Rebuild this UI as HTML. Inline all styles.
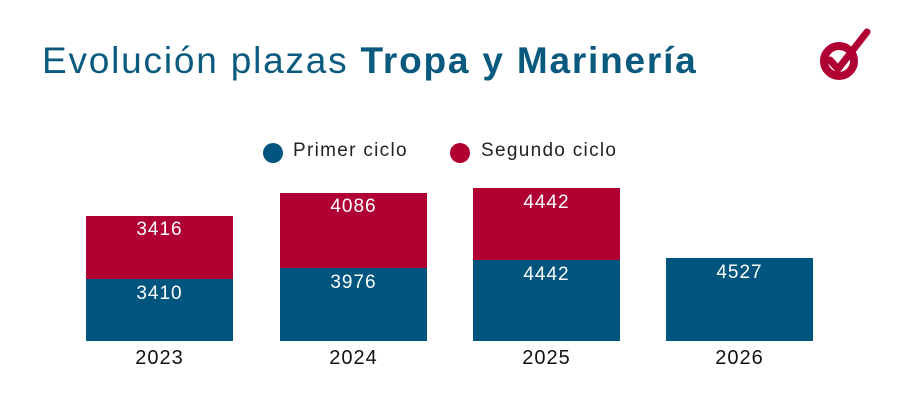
<!DOCTYPE html><html><head><style>
body{margin:0;width:900px;height:400px;background:#fff;position:relative;font-family:"Liberation Sans",sans-serif;overflow:hidden}
.t{position:absolute;left:42px;top:40px;font-size:37px;letter-spacing:1.8px;color:#0a5a80;white-space:nowrap}
.b{position:absolute;width:147px}
.bl{background:#00557f}.rd{background:#b00033}
.v{position:absolute;width:147px;text-align:center;color:#fff;font-size:19px;letter-spacing:1px}
.y{position:absolute;width:147px;text-align:center;top:347px;font-size:20px;letter-spacing:1px;color:#111}
.lg{position:absolute;top:140px;font-size:19px;letter-spacing:1.3px;color:#222}
.dot{position:absolute;width:20px;height:20px;border-radius:50%;top:143px}
</style></head><body>
<div class="t">Evolución plazas <b>Tropa y Marinería</b></div>
<svg style="position:absolute;left:815px;top:28px" width="60" height="56" viewBox="0 0 60 56">
<circle cx="24" cy="33" r="15" fill="none" stroke="#b00033" stroke-width="8"/>
<path d="M15 32 L23 41 L52 4" fill="none" stroke="#b00033" stroke-width="7" stroke-linecap="round"/>
</svg>
<div class="dot bl" style="left:263px"></div><div class="lg" style="left:293px">Primer ciclo</div>
<div class="dot rd" style="left:450px"></div><div class="lg" style="left:481px">Segundo ciclo</div>
<div class="b rd" style="left:86px;top:216px;height:63px"></div><div class="b bl" style="left:86px;top:279px;height:62px"></div>
<div class="b rd" style="left:280px;top:193px;height:75px"></div><div class="b bl" style="left:280px;top:268px;height:73px"></div>
<div class="b rd" style="left:473px;top:188px;height:72px"></div><div class="b bl" style="left:473px;top:260px;height:81px"></div>
<div class="b bl" style="left:666px;top:258px;height:83px"></div>
<div class="v" style="left:86px;top:219px">3416</div><div class="v" style="left:86px;top:283px">3410</div>
<div class="v" style="left:280px;top:196px">4086</div><div class="v" style="left:280px;top:272px">3976</div>
<div class="v" style="left:473px;top:192px">4442</div><div class="v" style="left:473px;top:264px">4442</div>
<div class="v" style="left:666px;top:262px">4527</div>
<div class="y" style="left:86px">2023</div><div class="y" style="left:280px">2024</div><div class="y" style="left:473px">2025</div><div class="y" style="left:666px">2026</div>
</body></html>
